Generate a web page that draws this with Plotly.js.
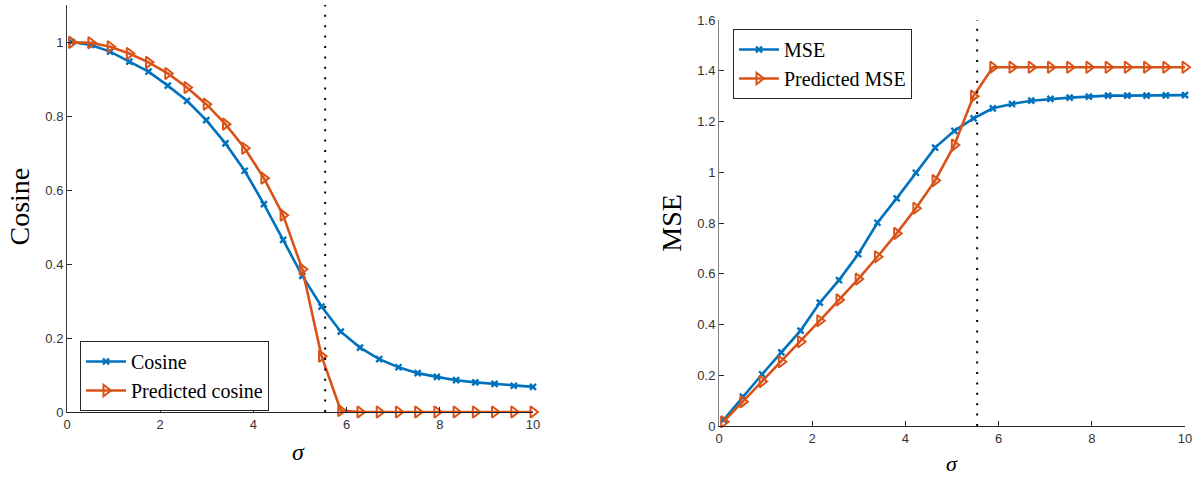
<!DOCTYPE html>
<html>
<head>
<meta charset="utf-8">
<script src="https://cdn.plot.ly/plotly-3.0.1.min.js"></script>
<style>html,body{margin:0;padding:0;background:#fff;}#chart{width:1195px;height:478px;}</style>
</head>
<body>
<div id="chart"></div>
<script>
// ---- data ----
const sigma = [0.1, 0.5125, 0.925, 1.3375, 1.75, 2.1625, 2.575, 2.9875, 3.4, 3.8125, 4.225, 4.6375, 5.05, 5.4625, 5.875, 6.2875, 6.7, 7.1125, 7.525, 7.9375, 8.35, 8.7625, 9.175, 9.5875, 10.0];
const cosine = [1.0, 0.992, 0.974, 0.947, 0.920, 0.882, 0.841, 0.789, 0.726, 0.652, 0.562, 0.465, 0.368, 0.285, 0.217, 0.174, 0.143, 0.121, 0.105, 0.095, 0.086, 0.080, 0.076, 0.071, 0.068];
const predictedCosine = [0.999, 0.998, 0.987, 0.969, 0.945, 0.915, 0.877, 0.832, 0.778, 0.713, 0.632, 0.532, 0.386, 0.151, 0.004, 0, 0, 0, 0, 0, 0, 0, 0, 0, 0];
const mse = [0.024, 0.116, 0.204, 0.290, 0.376, 0.486, 0.575, 0.677, 0.801, 0.897, 0.998, 1.097, 1.163, 1.212, 1.252, 1.269, 1.282, 1.289, 1.294, 1.298, 1.302, 1.302, 1.302, 1.303, 1.304];
const predictedMse = [0.017, 0.096, 0.175, 0.253, 0.332, 0.415, 0.497, 0.579, 0.667, 0.759, 0.858, 0.967, 1.107, 1.300, 1.414, 1.414, 1.414, 1.414, 1.414, 1.414, 1.414, 1.414, 1.414, 1.414, 1.414];
const threshold = [5.54];
const seriesNames = ["Cosine", "Predicted cosine", "MSE", "Predicted MSE"];
const xTitle = "σ";
const yTitles = ["Cosine", "MSE"];

// ---- styling ----
const W = 1195, H = 478;
const BLUE = "#0072BD", ORANGE = "#D95319";
const AX = "#262626";
const SERIF = "Liberation Serif, Times New Roman, serif";
const SANS = "Liberation Sans, Arial, sans-serif";
const px = v => v / W;
const py = v => 1 - v / H;

function blueTrace(y, name, xa, ya, leg) {
  return {x: sigma, y: y, name: name, xaxis: xa, yaxis: ya, legend: leg,
    type: "scatter", mode: "lines+markers", cliponaxis: false,
    line: {color: BLUE, width: 2.6},
    marker: {symbol: "x-thin-open", size: 6, color: BLUE, line: {color: BLUE, width: 2.4}}};
}
function orangeTrace(y, name, xa, ya, leg) {
  return {x: sigma, y: y, name: name, xaxis: xa, yaxis: ya, legend: leg,
    type: "scatter", mode: "lines+markers", cliponaxis: false,
    line: {color: ORANGE, width: 2.6},
    marker: {symbol: "triangle-right-open", size: 10, color: ORANGE, line: {color: ORANGE, width: 2}}};
}

const data = [
  blueTrace(cosine, seriesNames[0], "x", "y", "legend"),
  orangeTrace(predictedCosine, seriesNames[1], "x", "y", "legend"),
  blueTrace(mse, seriesNames[2], "x2", "y2", "legend2"),
  orangeTrace(predictedMse, seriesNames[3], "x2", "y2", "legend2")
];

function xAxis(domain, anchor) {
  return {domain: domain, anchor: anchor, range: [0, 10], dtick: 2, tick0: 0,
    showline: true, linecolor: AX, linewidth: 1, ticks: "inside", ticklen: 5, tickcolor: AX,
    showgrid: false, zeroline: false, tickfont: {family: SANS, size: 13, color: "#333"}, fixedrange: true};
}
function yAxis(domain, anchor, range, lc) {
  return {domain: domain, anchor: anchor, range: range, dtick: 0.2, tick0: 0,
    showline: true, linecolor: lc, linewidth: 1, ticks: "inside", ticklen: 5, tickcolor: AX,
    showgrid: false, zeroline: false, tickfont: {family: SANS, size: 13, color: "#333"}, fixedrange: true};
}
function legendCfg(x, y) {
  return {x: x, y: y, xanchor: "left", yanchor: "top", bgcolor: "#fff",
    bordercolor: AX, borderwidth: 1, itemwidth: 40, tracegroupgap: 0,
    font: {family: SERIF, size: 20, color: "#000"}};
}

const layout = {
  width: W, height: H, margin: {l: 0, r: 0, t: 0, b: 0},
  paper_bgcolor: "#fff", plot_bgcolor: "#fff", showlegend: true,
  xaxis: xAxis([px(67), px(533)], "y"),
  yaxis: yAxis([1 - 412 / H, 1 - 5 / H], "x", [0, 1.1], "#3a3a3a"),
  xaxis2: xAxis([px(719), px(1185)], "y2"),
  yaxis2: yAxis([1 - 426 / H, 1 - 20 / H], "x2", [0, 1.6], "#808080"),
  legend: legendCfg(px(80), py(341)),
  legend2: legendCfg(px(733), py(29)),
  shapes: [
    {type: "line", xref: "x", yref: "y domain", x0: threshold[0], x1: threshold[0], y0: 0, y1: 1,
     layer: "above", line: {color: "#000", width: 2, dash: "2px,8.4px"}},
    {type: "line", xref: "x2", yref: "y2 domain", x0: threshold[0], x1: threshold[0], y0: 0, y1: 1,
     layer: "above", line: {color: "#000", width: 2, dash: "2px,8.4px"}}
  ],
  annotations: [
    {text: yTitles[0], xref: "paper", yref: "paper", x: px(18.5), y: py(207), textangle: -90,
     showarrow: false, xanchor: "center", yanchor: "middle", font: {family: SERIF, size: 28, color: "#000"}},
    {text: yTitles[1], xref: "paper", yref: "paper", x: px(670.7), y: py(223), textangle: -90,
     showarrow: false, xanchor: "center", yanchor: "middle", font: {family: SERIF, size: 28, color: "#000"}},
    {text: "<i>" + xTitle + "</i>", xref: "paper", yref: "paper", x: px(298.3), y: py(451.7),
     showarrow: false, xanchor: "center", yanchor: "middle", font: {family: SERIF, size: 24, color: "#000"}},
    {text: "<i>" + xTitle + "</i>", xref: "paper", yref: "paper", x: px(951.7), y: py(463.8),
     showarrow: false, xanchor: "center", yanchor: "middle", font: {family: SERIF, size: 22, color: "#000"}}
  ]
};

Plotly.newPlot("chart", data, layout, {displayModeBar: false, staticPlot: true});
</script>
</body>
</html>
